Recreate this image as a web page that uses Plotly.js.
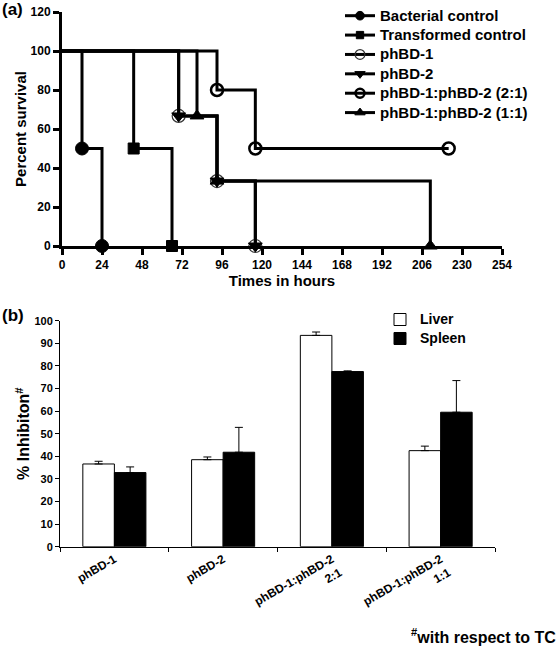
<!DOCTYPE html>
<html>
<head>
<meta charset="utf-8">
<script src="https://cdn.plot.ly/plotly-3.0.1.min.js"></script>
<style>html,body{margin:0;padding:0;background:#fff;}#chart{width:558px;height:646px;}</style>
</head>
<body>
<div id="chart"></div>
<script>
// ---------- Panel (a): survival curves ----------
const hourTickVals = [0, 24, 48, 72, 96, 120, 144, 168, 192, 216, 240, 264];
const hourTickText = ["0", "24", "48", "72", "96", "120", "144", "168", "192", "206", "230", "254"];
const survivalTicks = [0, 20, 40, 60, 80, 100, 120];

const seriesNames = ["Bacterial control", "Transformed control", "phBD-1", "phBD-2",
                     "phBD-1:phBD-2 (2:1)", "phBD-1:phBD-2 (1:1)"];
const bacterialHours = [0, 12, 24];
const bacterialSurv  = [100, 50, 0];
const transformedHours = [0, 43, 66];
const transformedSurv  = [100, 50, 0];
const phbd1Hours = [0, 70, 93, 116];
const phbd1Surv  = [100, 66.7, 33.3, 0];
const phbd2Hours = [0, 70, 93, 116];
const phbd2Surv  = [100, 66.7, 33.3, 0];
const mix21Hours = [0, 93, 116, 232];
const mix21Surv  = [100, 80, 50, 50];
const mix11Hours = [0, 81, 93, 221];
const mix11Surv  = [100, 66.7, 33.3, 0];

// ---------- Panel (b): inhibition bars ----------
const groups = ["phBD-1", "phBD-2", "phBD-1:phBD-2<br>2:1", "phBD-1:phBD-2<br>1:1"];
const organNames  = ["Liver", "Spleen"];
const liverVals   = [36.6, 38.5, 93.5, 42.5];
const liverErr    = [1.2, 1.2, 1.5, 2.0];
const spleenVals  = [32.8, 41.8, 77.5, 59.5];
const spleenErr   = [2.5, 11, 0.3, 14];
const inhibTicks  = [0, 10, 20, 30, 40, 50, 60, 70, 80, 90, 100];

const FONT = "Liberation Sans, Arial, Helvetica, sans-serif";
const W = 558, H = 646;
const px = v => v / W;
const py = v => (H - v) / H;

function sizes(n, s) { const a = new Array(n).fill(s); a[0] = 0; return a; }
function big(name, s) { return "<span style='font-size:" + s + "px'>" + name + "</span>"; }

function survTrace(name, x, y, symbol, size, color, lw) {
  return {
    type: "scatter", mode: "lines+markers", name: big(name, 15),
    x: x, y: y, xaxis: "x", yaxis: "y", cliponaxis: false,
    line: { shape: "hv", color: "#000", width: 3 },
    marker: { symbol: symbol, size: sizes(x.length, size), color: color || "#000", opacity: 1,
              line: { color: color || "#000", width: lw || 1 } },
    legend: "legend"
  };
}

const traces = [
  survTrace(seriesNames[0], bacterialHours, bacterialSurv, "circle", 13),
  survTrace(seriesNames[1], transformedHours, transformedSurv, "square", 11),
  survTrace(seriesNames[2], phbd1Hours, phbd1Surv, "circle-open", 13, "#333", 1.2),
  survTrace(seriesNames[3], phbd2Hours, phbd2Surv, "triangle-down", 12),
  survTrace(seriesNames[4], mix21Hours, mix21Surv, "circle-open", 12, "#000", 2.5),
  survTrace(seriesNames[5], mix11Hours, mix11Surv, "triangle-up", 12),
  {
    type: "bar", name: big(organNames[0], 14), x: groups, y: liverVals, xaxis: "x2", yaxis: "y2",
    marker: { color: "#fff", line: { color: "#000", width: 1 } },
    error_y: { type: "data", symmetric: false, array: liverErr, arrayminus: [0, 0, 0, 0],
               color: "#000", thickness: 1, width: 4 },
    legend: "legend2"
  },
  {
    type: "bar", name: big(organNames[1], 14), x: groups, y: spleenVals, xaxis: "x2", yaxis: "y2",
    marker: { color: "#000", line: { color: "#000", width: 1 } },
    error_y: { type: "data", symmetric: false, array: spleenErr, arrayminus: [0, 0, 0, 0],
               color: "#000", thickness: 1, width: 4 },
    legend: "legend2"
  }
];

const boldFont = (s) => ({ family: FONT, size: s, color: "#000", weight: "bold" });

const layout = {
  width: W, height: H,
  margin: { l: 0, r: 0, t: 0, b: 0 },
  paper_bgcolor: "#fff", plot_bgcolor: "rgba(0,0,0,0)",
  font: { family: FONT, color: "#000" },
  showlegend: true,
  barmode: "group", bargap: 0.42, bargroupgap: 0,
  xaxis: {
    domain: [px(62), px(502)], range: [0, 264], anchor: "y",
    tickmode: "array", tickvals: hourTickVals, ticktext: hourTickText,
    showline: true, linecolor: "#000", linewidth: 3,
    ticks: "outside", ticklen: 6, tickwidth: 3, tickcolor: "#000",
    showgrid: false, zeroline: false,
    tickfont: boldFont(12),
    title: { text: "Times in hours", font: boldFont(15), standoff: 4 }
  },
  yaxis: {
    domain: [py(246), py(12)], range: [0, 120], anchor: "x",
    tickmode: "array", tickvals: survivalTicks,
    showline: true, linecolor: "#000", linewidth: 3,
    ticks: "outside", ticklen: 6, tickwidth: 3, tickcolor: "#000",
    showgrid: false, zeroline: false,
    tickfont: boldFont(12),
    title: { text: "Percent survival", font: boldFont(15), standoff: 1 }
  },
  xaxis2: {
    domain: [px(60), px(495)], range: [-0.5, 3.5], anchor: "y2", type: "category",
    showline: true, linecolor: "#000", linewidth: 1,
    ticks: "outside", ticklen: 4, tickwidth: 1, tickcolor: "#000", tickson: "boundaries",
    showgrid: false, zeroline: false, tickangle: -30,
    tickfont: boldFont(12)
  },
  yaxis2: {
    domain: [py(546.7), py(320.7)], range: [0, 100], anchor: "x2",
    tickmode: "array", tickvals: inhibTicks,
    showline: true, linecolor: "#000", linewidth: 1,
    ticks: "outside", ticklen: 4, tickwidth: 1, tickcolor: "#000",
    showgrid: false, zeroline: false,
    tickfont: boldFont(11),
    title: { text: "% Inhibiton<sup>#</sup>", font: boldFont(16), standoff: 0 }
  },
  legend: {
    x: px(340), y: py(1), xanchor: "left", yanchor: "top",
    bgcolor: "rgba(0,0,0,0)", borderwidth: 0,
    font: boldFont(12.6), traceorder: "normal", itemwidth: 30, tracegroupgap: 0
  },
  legend2: {
    x: px(380), y: py(305), xanchor: "left", yanchor: "top",
    bgcolor: "rgba(0,0,0,0)", borderwidth: 0,
    font: boldFont(11.3), traceorder: "normal", itemwidth: 30
  },
  annotations: [
    { text: "(a)", x: 0, y: py(10), xref: "paper", yref: "paper",
      xanchor: "left", yanchor: "middle", showarrow: false, font: boldFont(17) },
    { text: "(b)", x: 0, y: py(315), xref: "paper", yref: "paper",
      xanchor: "left", yanchor: "middle", showarrow: false, font: boldFont(17) },
    { text: "<sup>#</sup>with respect to TC", x: 1, y: py(636), xref: "paper", yref: "paper",
      xanchor: "right", yanchor: "middle", showarrow: false, font: boldFont(16) }
  ]
};

Plotly.newPlot("chart", traces, layout, { staticPlot: true, displayModeBar: false });
</script>
</body>
</html>
